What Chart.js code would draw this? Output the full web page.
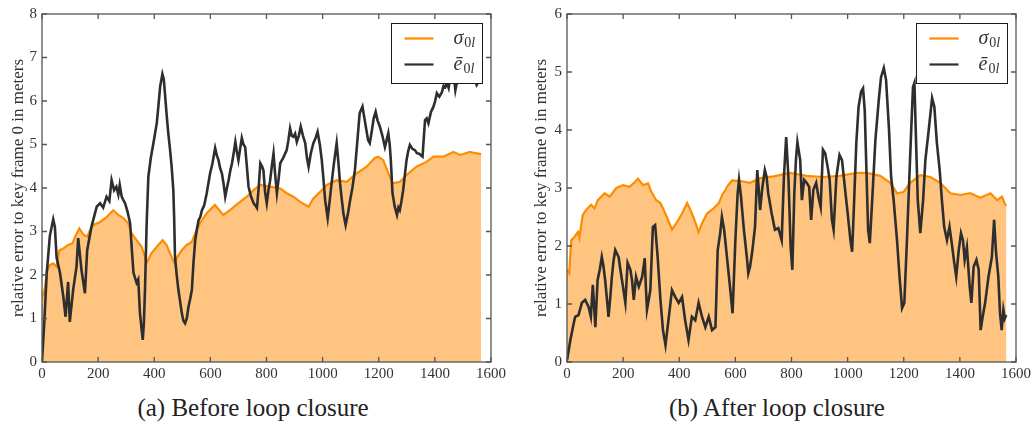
<!DOCTYPE html>
<html>
<head>
<meta charset="utf-8">
<script src="https://cdn.jsdelivr.net/npm/chart.js@4"></script>
<style>
    body { margin: 0; background: #fff; }
    #figura { position: relative; width: 1034px; height: 424px; overflow: hidden; font-family: "Liberation Serif", serif; }
    #figura canvas { position: absolute; top: 0; }
    .pie { position: absolute; top: 394px; font-size: 25px; line-height: 28px; color: #222; text-align: center; white-space: nowrap; }
</style>
</head>
<body>
<div id="figura">
    <canvas id="grafica-a" width="517" height="390" style="left:0"></canvas>
    <canvas id="grafica-b" width="517" height="390" style="left:517px"></canvas>
    <div class="pie" style="left:0;width:506px">(a) Before loop closure</div>
    <div class="pie" style="left:524px;width:506px">(b) After loop closure</div>
</div>
<script>
// =============================================
// DATOS
// =============================================

const xTicks  = [0, 200, 400, 600, 800, 1000, 1200, 1400, 1600];
const yTicksA = [0, 1, 2, 3, 4, 5, 6, 7, 8];
const yTicksB = [0, 1, 2, 3, 4, 5, 6];
const tituloY = 'relative error to key frame 0 in meters';

// (a) antes del cierre de bucle: sigma_0l
const sigmaAX = [0, 5, 11, 17, 28, 40, 52, 62, 76, 93, 109, 118, 133, 147, 161, 171, 183, 207, 230, 254,
    272, 290, 307, 319, 337, 355, 363, 373, 390, 409, 430, 444, 462, 474, 480, 498, 516, 534, 546, 563,
    587, 616, 646, 670, 700, 730, 754, 777, 813, 849, 872, 896, 920, 950, 967, 991, 1015, 1050, 1086, 1122,
    1157, 1186, 1198, 1216, 1234, 1249, 1275, 1299, 1334, 1370, 1395, 1430, 1466, 1490, 1525, 1545, 1565];
const sigmaAY = [1.5, 1.55, 1.72, 2.1, 2.23, 2.27, 2.19, 2.57, 2.61, 2.69, 2.73, 2.88, 3.07, 2.93, 2.88, 3.03, 3.15, 3.22, 3.33, 3.49,
    3.38, 3.31, 3.19, 2.96, 2.8, 2.65, 2.5, 2.28, 2.5, 2.65, 2.8, 2.69, 2.41, 2.25, 2.39, 2.57, 2.69, 2.76, 2.96, 3.19,
    3.42, 3.61, 3.38, 3.49, 3.65, 3.8, 3.95, 4.07, 4.03, 3.99, 3.88, 3.8, 3.68, 3.57, 3.76, 3.91, 4.07, 4.18, 4.14, 4.34,
    4.49, 4.69, 4.72, 4.64, 4.34, 4.11, 4.14, 4.3, 4.49, 4.6, 4.72, 4.72, 4.83, 4.76, 4.83, 4.8, 4.78];

// (a) antes del cierre de bucle: e_0l
const errorAX = [0, 8, 17, 28, 40, 46, 52, 64, 76, 84, 93, 99, 111, 123, 129, 141, 153, 161, 176, 195,
    207, 218, 230, 240, 248, 257, 265, 272, 277, 284, 290, 296, 305, 314, 320, 326, 337, 343, 349, 355,
    359, 363, 367, 373, 379, 388, 397, 409, 415, 421, 429, 434, 438, 444, 450, 456, 462, 468, 471, 474,
    480, 486, 492, 498, 504, 510, 516, 522, 528, 534, 540, 546, 552, 558, 564, 570, 578, 587, 599, 607,
    617, 623, 629, 635, 641, 647, 653, 659, 665, 671, 677, 683, 689, 694, 700, 706, 712, 718, 724, 730,
    736, 745, 754, 760, 766, 772, 778, 784, 789, 795, 801, 807, 813, 819, 825, 831, 837, 843, 849, 860,
    872, 878, 884, 890, 896, 902, 908, 915, 922, 930, 938, 944, 950, 958, 967, 975, 982, 990, 997, 1003,
    1009, 1018, 1025, 1032, 1041, 1050, 1056, 1062, 1068, 1074, 1082, 1090, 1098, 1106, 1115, 1124, 1132, 1142, 1149, 1156,
    1162, 1168, 1175, 1182, 1189, 1196, 1204, 1213, 1222, 1228, 1234, 1239, 1243, 1249, 1257, 1265, 1270, 1275, 1281, 1287,
    1293, 1299, 1305, 1311, 1320, 1329, 1336, 1344, 1350, 1356, 1361, 1365, 1371, 1377, 1386, 1395, 1401, 1407, 1416, 1425,
    1431, 1437, 1443, 1449, 1455, 1461, 1467, 1473, 1479, 1485, 1491, 1497, 1503, 1510, 1518, 1526, 1534, 1541, 1549, 1556, 1565];
const errorAY = [0, 0.9, 2.05, 2.9, 3.28, 3.1, 2.4, 2.05, 1.5, 1.04, 1.84, 0.92, 1.66, 2.19, 2.85, 2.1, 1.58, 2.57, 3.1, 3.57,
    3.65, 3.55, 3.8, 3.7, 4.18, 3.95, 4.03, 3.85, 4.07, 3.8, 3.72, 3.65, 3.45, 3.19, 2.6, 2.05, 1.82, 1.9, 1.13, 0.75,
    0.51, 0.9, 1.66, 3.19, 4.26, 4.7, 5.03, 5.49, 5.9, 6.33, 6.62, 6.5, 6.18, 5.7, 5.26, 4.9, 4.49, 3.95, 3.3, 2.41,
    2.0, 1.66, 1.4, 1.13, 0.95, 0.89, 1.0, 1.27, 1.45, 1.66, 2.3, 2.8, 3.05, 3.26, 3.33, 3.49, 3.6, 3.88, 4.34, 4.55,
    4.92, 4.75, 4.64, 4.45, 4.34, 4.1, 3.8, 4.0, 4.18, 4.4, 4.57, 4.8, 5.06, 4.85, 4.64, 4.9, 5.15, 5.0, 4.94, 4.5,
    4.03, 3.8, 3.65, 3.6, 3.54, 4.0, 4.57, 4.5, 4.41, 3.9, 3.65, 3.95, 4.18, 4.5, 4.79, 4.3, 3.88, 4.2, 4.57, 4.7,
    4.87, 5.1, 5.37, 5.2, 5.18, 5.25, 5.06, 5.2, 5.41, 5.2, 5.03, 4.7, 4.49, 4.8, 5.03, 5.15, 5.29, 5.0, 4.64, 4.2,
    3.72, 3.31, 3.7, 4.11, 4.6, 5.03, 4.6, 4.11, 3.75, 3.42, 3.15, 3.4, 3.72, 4.0, 4.41, 5.1, 5.72, 5.87, 5.6, 5.33,
    5.1, 5.03, 5.3, 5.6, 5.75, 5.55, 5.41, 5.2, 4.94, 5.1, 5.26, 5.0, 4.64, 3.88, 3.57, 3.38, 3.55, 3.49, 3.7, 3.95,
    4.3, 4.64, 4.85, 4.99, 4.9, 4.87, 4.8, 4.79, 4.75, 4.72, 5.2, 5.56, 5.6, 5.49, 5.75, 5.87, 6.0, 6.18, 6.1, 6.2,
    6.35, 6.32, 6.41, 6.3, 6.55, 6.48, 6.6, 6.25, 6.45, 6.48, 6.6, 6.5, 6.65, 6.55, 6.7, 6.6, 6.75, 6.5, 6.37, 6.45, 6.6];

// (b) después del cierre de bucle: sigma_0l
const sigmaBX = [0, 8, 15, 27, 39, 44, 56, 68, 86, 98, 110, 122, 134, 152, 176, 200, 223, 241, 253, 271,
    289, 300, 318, 333, 356, 374, 392, 410, 428, 440, 452, 469, 481, 499, 523, 541, 553, 565, 570, 588,
    618, 652, 689, 737, 794, 854, 913, 973, 1032, 1068, 1116, 1152, 1176, 1199, 1223, 1259, 1295, 1330, 1366, 1402,
    1437, 1473, 1509, 1533, 1550, 1562, 1566];
const sigmaBY = [1.59, 1.53, 2.1, 2.16, 2.24, 2.14, 2.53, 2.62, 2.71, 2.65, 2.79, 2.85, 2.91, 2.85, 3.0, 3.05, 3.02, 3.1, 3.16, 3.05,
    3.08, 2.94, 2.79, 2.74, 2.5, 2.28, 2.41, 2.56, 2.74, 2.62, 2.48, 2.24, 2.39, 2.56, 2.65, 2.74, 2.88, 2.97, 3.02, 3.13,
    3.12, 3.09, 3.17, 3.2, 3.26, 3.21, 3.19, 3.21, 3.26, 3.26, 3.21, 3.09, 2.91, 2.93, 3.09, 3.22, 3.19, 3.09, 2.91, 2.88,
    2.91, 2.83, 2.91, 2.79, 2.85, 2.71, 2.7];

// (b) después del cierre de bucle: e_0l
const errorBX = [0, 6, 12, 24, 29, 41, 53, 65, 77, 85, 92, 101, 109, 117, 124, 130, 136, 142, 148, 154,
    160, 166, 172, 184, 190, 196, 208, 216, 226, 232, 238, 246, 256, 268, 277, 281, 285, 297, 306, 314,
    323, 333, 342, 351, 363, 374, 386, 398, 410, 421, 433, 445, 457, 469, 481, 493, 505, 517, 529, 537,
    546, 552, 560, 570, 582, 590, 600, 608, 613, 620, 630, 641, 646, 652, 660, 670, 678, 683, 688, 696,
    705, 711, 717, 729, 741, 753, 765, 773, 781, 789, 797, 803, 810, 816, 821, 831, 837, 845, 854, 863,
    870, 878, 888, 896, 904, 912, 920, 929, 936, 944, 950, 960, 971, 980, 990, 1000, 1010, 1016, 1022, 1031,
    1039, 1048, 1055, 1061, 1067, 1073, 1079, 1087, 1099, 1111, 1119, 1129, 1137, 1147, 1155, 1164, 1176, 1185, 1194, 1202,
    1211, 1220, 1227, 1233, 1238, 1244, 1250, 1259, 1269, 1277, 1289, 1301, 1309, 1318, 1328, 1336, 1344, 1354, 1363, 1371,
    1380, 1387, 1396, 1404, 1411, 1417, 1425, 1435, 1441, 1449, 1459, 1467, 1474, 1482, 1490, 1502, 1514, 1522, 1529, 1537,
    1543, 1549, 1555, 1560, 1565];
const errorBY = [0.03, 0.2, 0.38, 0.67, 0.78, 0.81, 1.02, 1.07, 0.95, 0.78, 1.33, 0.6, 1.41, 1.6, 1.81, 1.65, 1.41, 1.1, 0.78, 1.1,
    1.47, 1.75, 1.93, 1.81, 1.6, 1.41, 1.02, 1.71, 1.59, 1.4, 1.07, 1.47, 1.3, 1.47, 1.79, 1.3, 0.9, 1.24, 2.33, 2.36,
    1.81, 1.07, 0.55, 0.29, 0.78, 1.24, 1.12, 1.02, 1.12, 0.72, 0.38, 0.78, 0.72, 1.02, 0.78, 0.6, 0.78, 0.55, 0.6, 1.93,
    2.22, 2.5, 2.28, 1.81, 1.24, 0.84, 2.1, 2.9, 3.14, 2.85, 2.3, 1.8, 1.53, 1.64, 1.9, 2.33, 3.31, 3.0, 2.62, 3.0,
    3.31, 3.2, 2.91, 2.57, 2.28, 2.31, 2.1, 3.19, 3.88, 3.19, 1.98, 1.59, 2.91, 3.5, 3.79, 3.48, 2.79, 3.14, 3.09, 3.02,
    2.45, 2.97, 3.09, 2.85, 2.67, 3.66, 3.6, 3.36, 3.14, 2.45, 2.28, 3.19, 3.57, 3.48, 3.02, 2.57, 2.1, 1.9, 2.62, 3.78,
    4.4, 4.66, 4.72, 4.34, 3.31, 2.28, 2.05, 2.74, 3.83, 4.52, 4.91, 5.07, 4.86, 4.05, 3.19, 2.79, 2.1, 1.47, 0.93, 1.02,
    2.05, 3.19, 4.05, 4.74, 4.81, 3.78, 2.79, 2.22, 2.79, 3.48, 4.0, 4.55, 4.4, 3.78, 3.31, 2.79, 2.33, 2.1, 2.33, 2.05,
    1.71, 1.47, 1.93, 2.22, 2.1, 1.76, 1.98, 1.3, 1.02, 1.64, 1.76, 1.59, 0.55, 0.8, 1.02, 1.47, 1.81, 2.45, 1.88, 1.47,
    0.84, 0.55, 0.9, 0.75, 0.81];

// =============================================
// ESTILO
// =============================================

const FUENTE      = '"Liberation Serif", "DejaVu Serif", serif';
const COLOR_EJE   = '#555555';
const COLOR_TEXTO = '#333333';
const NARANJA     = '#ff8c00';
const RELLENO     = '#ffc580';
const GRIS_OSCURO = '#2e2e2e';
const LARGO_TICK  = 5;

Chart.defaults.font.family = FUENTE;

const puntos = (xs, ys) => xs.map((x, i) => ({ x, y: ys[i] }));

// Marco con ticks hacia dentro (estilo matplotlib) + leyenda con subíndices
const marcoYLeyenda = {
    id: 'marcoYLeyenda',
    afterDatasetsDraw(chart) {
        const { ctx, chartArea: a, scales } = chart;
        ctx.save();

        ctx.strokeStyle = COLOR_EJE;
        ctx.lineWidth = 1.3;
        ctx.beginPath();
        scales.x.ticks.forEach(t => {
            const px = scales.x.getPixelForValue(t.value);
            ctx.moveTo(px, a.bottom); ctx.lineTo(px, a.bottom - LARGO_TICK);
            ctx.moveTo(px, a.top);    ctx.lineTo(px, a.top + LARGO_TICK);
        });
        scales.y.ticks.forEach(t => {
            const py = scales.y.getPixelForValue(t.value);
            ctx.moveTo(a.left, py);  ctx.lineTo(a.left + LARGO_TICK, py);
            ctx.moveTo(a.right, py); ctx.lineTo(a.right - LARGO_TICK, py);
        });
        ctx.stroke();
        ctx.strokeRect(a.left, a.top, a.right - a.left, a.bottom - a.top);

        // Leyenda (caja blanca opaca, arriba a la derecha)
        const w = 91, h = 60;
        const bx = Math.round(a.right - 9 - w) + 0.5;
        const by = Math.round(a.top + 9) + 0.5;
        ctx.fillStyle = '#fff';
        ctx.fillRect(bx, by, w, h);
        ctx.strokeStyle = '#1a1a1a';
        ctx.lineWidth = 1;
        ctx.strokeRect(bx, by, w, h);

        const items = chart.data.datasets
            .filter(d => d.simbolo)
            .sort((p, q) => p.filaLeyenda - q.filaLeyenda);

        items.forEach((d, i) => {
            const ly = by + 15 + i * 26;
            ctx.strokeStyle = d.borderColor;
            ctx.lineWidth = 2.2;
            ctx.beginPath();
            ctx.moveTo(bx + 13, ly);
            ctx.lineTo(bx + 42, ly);
            ctx.stroke();

            ctx.fillStyle = COLOR_TEXTO;
            ctx.textBaseline = 'alphabetic';
            ctx.textAlign = 'left';
            let tx = bx + 62;
            ctx.font = `italic 20px ${FUENTE}`;
            ctx.fillText(d.simbolo, tx, ly + 5);
            tx += ctx.measureText(d.simbolo).width + 1;
            ctx.font = `14px ${FUENTE}`;
            ctx.fillText('0', tx, ly + 8);
            tx += ctx.measureText('0').width;
            ctx.font = `italic 14px ${FUENTE}`;
            ctx.fillText('l', tx, ly + 8);
        });

        ctx.restore();
    }
};

function crearGrafica(idCanvas, cfg) {
    const ctx = document.getElementById(idCanvas).getContext('2d');
    return new Chart(ctx, {
        type: 'line',
        data: {
            datasets: [
                {
                    label: 'ē0l',
                    simbolo: 'ē',
                    filaLeyenda: 1,
                    data: puntos(cfg.errorX, cfg.errorY),
                    borderColor: GRIS_OSCURO,
                    borderWidth: 2.6,
                    pointRadius: 0,
                    tension: 0,
                    fill: false,
                    order: 0
                },
                {
                    label: 'σ0l',
                    simbolo: 'σ',
                    filaLeyenda: 0,
                    data: puntos(cfg.sigmaX, cfg.sigmaY),
                    borderColor: NARANJA,
                    backgroundColor: RELLENO,
                    borderWidth: 2.2,
                    pointRadius: 0,
                    tension: 0,
                    fill: 'origin',
                    order: 1
                }
            ]
        },
        options: {
            responsive: false,
            animation: false,
            devicePixelRatio: 1,
            layout: { padding: { top: 14, right: cfg.padDerecha, left: 0, bottom: 0 } },
            scales: {
                x: {
                    type: 'linear',
                    min: 0,
                    max: 1600,
                    afterBuildTicks: s => { s.ticks = xTicks.map(v => ({ value: v })); },
                    afterFit: s => { s.height = 28; },
                    grid: { display: false, drawTicks: false },
                    border: { display: false },
                    ticks: {
                        color: COLOR_TEXTO, font: { family: FUENTE, size: 15 }, padding: 3,
                        maxRotation: 0, autoSkip: false, callback: v => String(v)
                    }
                },
                y: {
                    min: 0,
                    max: cfg.yTicks[cfg.yTicks.length - 1],
                    afterBuildTicks: s => { s.ticks = cfg.yTicks.map(v => ({ value: v })); },
                    afterFit: s => { s.width = cfg.izquierda; },
                    grid: { display: false, drawTicks: false },
                    border: { display: false },
                    ticks: { color: COLOR_TEXTO, font: { family: FUENTE, size: 15 }, padding: 5, callback: v => String(v) },
                    title: {
                        display: true,
                        text: tituloY,
                        color: COLOR_TEXTO,
                        font: { family: FUENTE, size: 17 },
                        padding: { top: cfg.padTitulo, bottom: 0 }
                    }
                }
            },
            plugins: {
                legend: { display: false },
                tooltip: { enabled: false }
            }
        },
        plugins: [marcoYLeyenda]
    });
}

function dibujarTodo() {
    crearGrafica('grafica-a', {
        sigmaX: sigmaAX, sigmaY: sigmaAY, errorX: errorAX, errorY: errorAY,
        yTicks: yTicksA, izquierda: 42, padDerecha: 26, padTitulo: 8
    });
    crearGrafica('grafica-b', {
        sigmaX: sigmaBX, sigmaY: sigmaBY, errorX: errorBX, errorY: errorBY,
        yTicks: yTicksB, izquierda: 50, padDerecha: 18, padTitulo: 14
    });
}

// Esperar a que la fuente serif esté lista antes de pintar en el canvas
Promise.all([
    document.fonts.load('15px "Liberation Serif"'),
    document.fonts.load('italic 15px "Liberation Serif"')
]).then(dibujarTodo, dibujarTodo);
</script>
</body>
</html>
